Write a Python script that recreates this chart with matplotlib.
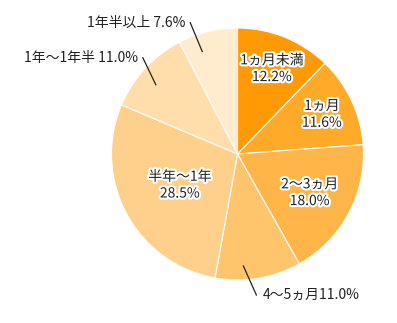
import numpy as np
import matplotlib
matplotlib.use("Agg")
import matplotlib.pyplot as plt
import matplotlib.patheffects as pe

plt.rcParams['font.family'] = ['Noto Sans CJK JP', 'DejaVu Sans']

categories = ["1ヵ月未満", "1ヵ月", "2〜3ヵ月", "4〜5ヵ月", "半年〜1年", "1年〜1年半", "1年半以上"]
values = [12.2, 11.6, 18.0, 11.0, 28.5, 11.0, 7.6]
colors = ["#FF9A05", "#FFAA29", "#FFB548", "#FFC56D", "#FFD08B", "#FFDEAC", "#FFEBCD"]
inside = [True, True, True, False, True, False, False]

W, H = 397, 323
fig = plt.figure(figsize=(W / 100, H / 100), dpi=100)
ax = fig.add_axes([0, 0, 1, 1])
ax.set_xlim(0, W)
ax.set_ylim(0, H)
ax.set_aspect('equal')
ax.axis('off')

cx, cy, R = 237.5, H - 154, 126
wedges, _ = ax.pie(values, colors=colors, startangle=90, counterclock=False,
                   center=(cx, cy), radius=R,
                   wedgeprops=dict(edgecolor='white', linewidth=0.8))
ax.set_xlim(0, W)
ax.set_ylim(0, H)

fs = 10
stroke = [pe.withStroke(linewidth=3, foreground='white')]
in_r = [0.73, 0.74, 0.65, 0, 0.52, 0, 0]
out_cfg = {3: (-87, 0.89, (13, -29), 'left'),
           5: (139.7, 0.85, (-13, 27), 'right'),
           6: (109, 0.86, (-12, 29), 'right')}

for i, (w, cat, v) in enumerate(zip(wedges, categories, values)):
    mid = np.deg2rad((w.theta1 + w.theta2) / 2)
    if inside[i]:
        r = in_r[i] * R
        ax.text(cx + r * np.cos(mid), cy + r * np.sin(mid), f"{cat}\n{v:.1f}%",
                ha='center', va='center', fontsize=fs, color='#222222',
                linespacing=1.25, path_effects=stroke)
    else:
        ang, rf, (dx, dy), ha = out_cfg[i]
        a = np.deg2rad(ang)
        x0, y0 = cx + rf * R * np.cos(a), cy + rf * R * np.sin(a)
        x1, y1 = x0 + dx, y0 + dy
        ax.plot([x0, x1], [y0, y1], color='#222222', linewidth=0.9)
        sep = "" if i == 3 else " "
        tx = x1 + (6 if ha == 'left' else -5)
        ax.text(tx, y1, f"{cat}{sep}{v:.1f}%", ha=ha, va='center', fontsize=fs,
                color='#222222')

fig.savefig("out.png", dpi=100)
